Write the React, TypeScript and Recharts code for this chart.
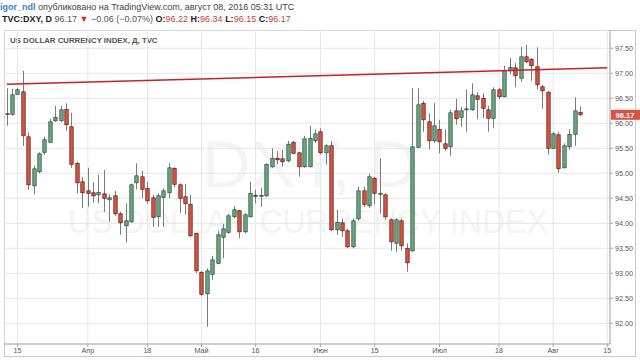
import { Bar, CartesianGrid, ComposedChart, ReferenceLine, XAxis, YAxis } from 'recharts';

// OHLC, DXY daily, 11 Mar 2016 .. 8 Aug 2016
const opens = [
  96.19, 96.18, 96.58, 96.63, 95.73, 94.75, 95.03, 95.42, 95.62, 96.05,
  96.05, 96.28, 95.93, 95.2, 94.83, 94.65, 94.61, 94.57, 94.59, 94.47,
  94.55, 94.19, 93.95, 94.03, 94.81, 94.93, 94.7, 94.51, 94.13, 94.52,
  94.61, 95.1, 94.77, 94.53, 94.38, 93.8, 93.02, 92.59, 92.98, 93.2,
  93.72, 93.82, 94.13, 94.25, 93.83, 94.13, 94.56, 94.54, 94.55, 95.13,
  95.3, 95.29, 95.25, 95.62, 95.41, 95.13, 95.13, 95.65, 95.83, 95.41,
  95.55, 93.87, 94.01, 93.85, 93.53, 94.09, 94.65, 94.35, 94.9, 94.58,
  94.57, 94.07, 93.6, 94.05, 93.5, 93.45, 95.52, 96.4, 96.03, 95.65,
  95.88, 95.59, 95.53, 96.25, 96.12, 96.27, 96.27, 96.55, 96.5, 96.27,
  96.1, 96.67, 96.53, 97.05, 97.11, 96.9, 97.33, 97.28, 97.13, 96.73,
  96.62, 95.5, 95.77, 95.11, 95.53, 95.78, 96.22,
];
const highs = [
  96.7, 96.69, 96.71, 97.05, 95.82, 95.15, 95.42, 95.73, 96.09, 96.35,
  96.35, 96.4, 96.21, 95.23, 94.93, 95.11, 94.82, 94.97, 95.07, 94.58,
  94.65, 94.23, 94.4, 94.79, 95.2, 95.05, 94.83, 94.57, 94.6, 94.7,
  95.2, 95.12, 94.8, 94.79, 94.57, 93.81, 93.05, 93.1, 93.35, 93.85,
  93.99, 94.19, 94.35, 94.27, 94.2, 94.83, 94.67, 94.71, 95.2, 95.5,
  95.45, 95.47, 95.65, 95.65, 95.43, 95.75, 95.95, 95.88, 95.9, 95.58,
  95.65, 94.27, 94.1, 93.89, 94.1, 94.73, 94.73, 94.99, 94.93, 95.3,
  94.6, 94.1, 94.1, 94.1, 93.6, 96.7, 96.7, 96.45, 96.2, 96.41,
  96.07, 95.88, 96.27, 96.49, 96.33, 96.68, 96.8, 96.62, 96.6, 96.35,
  96.72, 96.71, 97.15, 97.31, 97.21, 97.53, 97.57, 97.31, 97.52, 96.77,
  96.65, 95.83, 95.83, 95.6, 95.88, 96.52, 96.34,
];
const lows = [
  95.95, 96.15, 96.57, 95.55, 94.67, 94.58, 95.0, 95.37, 95.61, 96.03,
  96.03, 95.85, 95.11, 94.6, 94.31, 94.33, 94.41, 94.4, 94.23, 94.03,
  94.15, 93.77, 93.62, 94.01, 94.68, 94.5, 94.39, 93.93, 93.93, 93.93,
  94.5, 94.72, 94.21, 94.17, 93.73, 93.0, 92.55, 91.93, 92.87, 93.18,
  93.3, 93.79, 94.1, 93.7, 93.8, 94.12, 94.4, 94.33, 94.53, 95.11,
  95.18, 95.13, 95.22, 95.38, 94.93, 95.11, 95.12, 95.61, 95.38, 95.17,
  93.85, 93.77, 93.73, 93.5, 93.5, 94.05, 94.33, 94.31, 94.38, 94.2,
  94.07, 93.45, 93.43, 93.45, 93.03, 93.43, 95.5, 95.83, 95.48, 95.61,
  95.4, 95.45, 95.35, 95.97, 95.93, 95.83, 96.25, 96.08, 96.1, 95.83,
  95.91, 96.48, 96.52, 96.98, 96.72, 96.83, 97.2, 96.85, 96.68, 96.29,
  95.38, 95.49, 95.01, 95.1, 95.47, 95.55, 96.15,
];
const closes = [
  96.18, 96.57, 96.67, 95.75, 94.77, 95.09, 95.39, 95.67, 96.03, 96.12,
  96.27, 95.97, 95.18, 94.81, 94.61, 94.6, 94.55, 94.62, 94.5, 94.51,
  94.19, 94.01, 94.05, 94.77, 94.95, 94.68, 94.45, 94.12, 94.55, 94.65,
  95.11, 94.78, 94.5, 94.39, 93.75, 93.05, 92.58, 93.05, 93.27, 93.77,
  93.89, 94.15, 94.27, 93.83, 94.17, 94.6, 94.54, 94.56, 95.18, 95.3,
  95.27, 95.23, 95.58, 95.4, 95.13, 95.69, 95.7, 95.79, 95.41, 95.55,
  93.87, 94.02, 93.85, 93.53, 94.05, 94.65, 94.38, 94.93, 94.6, 94.6,
  94.13, 93.63, 94.07, 93.55, 93.21, 95.53, 96.37, 96.07, 95.65, 95.95,
  95.63, 95.5, 96.21, 96.09, 96.25, 96.29, 96.57, 96.48, 96.3, 96.1,
  96.67, 96.53, 97.05, 97.12, 96.95, 97.33, 97.23, 97.15, 96.77, 96.65,
  95.5, 95.79, 95.09, 95.55, 95.78, 96.25, 96.17,
];

const tickLabels: Record<string, string> = {
  '2016-03-15': '15',
  '2016-04-01': 'Апр',
  '2016-04-18': '18',
  '2016-05-02': 'Май',
  '2016-05-16': '16',
  '2016-06-01': 'Июн',
  '2016-06-15': '15',
  '2016-07-01': 'Июл',
  '2016-07-18': '18',
  '2016-08-01': 'Авг',
  '2016-08-15': '15',
};
const priceTicks = [92, 92.5, 93, 93.5, 94, 94.5, 95, 95.5, 96, 96.5, 97, 97.5];
const trendStart = 96.78;
const trendEnd = 97.11;
const lastPrice = 96.17;

// trading days (weekdays) incl. a few empty ones to the right
const days: string[] = [];
for (let t = Date.UTC(2016, 2, 11); t <= Date.UTC(2016, 7, 15); t += 86400000) {
  const dow = new Date(t).getUTCDay();
  if (dow !== 0 && dow !== 6) days.push(new Date(t).toISOString().slice(0, 10));
}

const data = days.map((day, i) => ({
  day,
  o: opens[i],
  h: highs[i],
  l: lows[i],
  c: closes[i],
}));

const FONT = '"Liberation Sans", Arial, sans-serif';
const UP = '#6ba583';
const DOWN = '#d75442';

function Candle(props: any) {
  const { x, y, width, height, payload } = props;
  if (!payload || payload.o == null) return null;
  const { o, h, l, c } = payload;
  const k = h > l ? height / (h - l) : 0;
  const py = (v: number) => y + (h - v) * k;
  const cx = Math.round(x + width / 2) + 0.5;
  const up = c >= o;
  const top = py(Math.max(o, c));
  const bot = py(Math.min(o, c));
  const bw = 3.4;
  return (
    <g>
      <line x1={cx} x2={cx} y1={y} y2={y + height} stroke="#7c7c7e" strokeWidth={1} />
      <rect
        x={cx - bw / 2}
        y={top}
        width={bw}
        height={Math.max(bot - top, 0.8)}
        fill={up ? UP : DOWN}
        stroke={up ? '#225437' : '#5b1a13'}
        strokeWidth={0.7}
      />
    </g>
  );
}

function PriceTag({ viewBox }: any) {
  if (!viewBox) return null;
  const x = viewBox.x + viewBox.width + 1;
  const y = viewBox.y;
  return (
    <g>
      <rect x={x} y={y - 5} width={29} height={10} fill={DOWN} />
      <text x={x + 14} y={y + 3} textAnchor="middle" fill="#fff" fontSize={7.5} fontWeight="bold" fontFamily={FONT}>
        {lastPrice.toFixed(2)}
      </text>
    </g>
  );
}

export default function App() {
  return (
    <div style={{ position: 'absolute', left: 0, top: 0, width: 640, height: 361, background: '#fff', overflow: 'hidden', fontFamily: FONT }}>
      <div style={{ position: 'absolute', left: 0, top: 1, fontSize: 9, lineHeight: '12px', whiteSpace: 'nowrap', color: '#444' }}>
        <span style={{ color: '#3a7fc4', fontWeight: 'bold' }}>igor_ndl</span> опубликовано на TradingView.com, август 08, 2016 05:31 UTC
      </div>
      <div style={{ position: 'absolute', left: 2, top: 13, fontSize: 9, lineHeight: '12px', whiteSpace: 'nowrap', color: '#555' }}>
        <b style={{ color: '#222' }}>TVC:DXY, D</b> 96.17 <span style={{ color: '#d32f2f' }}>▼</span> −0.06 (−0.07%){' '}
        <b style={{ color: '#222' }}>O:</b><span style={{ color: '#c94040' }}>96.22</span>{' '}
        <b style={{ color: '#222' }}>H:</b><span style={{ color: '#c94040' }}>96.34</span>{' '}
        <b style={{ color: '#222' }}>L:</b><span style={{ color: '#c94040' }}>96.15</span>{' '}
        <b style={{ color: '#222' }}>C:</b><span style={{ color: '#c94040' }}>96.17</span>
      </div>

      <div style={{ position: 'absolute', left: 4, top: 30, width: 632, height: 327, border: '1px solid #c8c8c8', boxSizing: 'border-box' }} />

      <svg width={640} height={361} style={{ position: 'absolute', left: 0, top: 0 }}>
        <text x={202} y={187} fontSize={65} fill="#f4f4f4" fontFamily={FONT} textLength={216} lengthAdjust="spacingAndGlyphs">
          DXY, D
        </text>
        <text x={68} y={233} fontSize={33} fill="#f4f4f4" fontFamily={FONT} textLength={480} lengthAdjust="spacingAndGlyphs">
          US DOLLAR CURRENCY INDEX
        </text>
      </svg>

      <div style={{ position: 'absolute', left: 10, top: 36, fontSize: 7.8, fontWeight: 'bold', color: '#555', whiteSpace: 'nowrap' }}>
        US DOLLAR CURRENCY INDEX, Д, TVC
      </div>

      <div style={{ position: 'absolute', left: 4, top: 30 }}>
        <ComposedChart
          width={636}
          height={327}
          data={data}
          margin={{ top: 0, right: 0, bottom: 0, left: 0 }}
          barCategoryGap={0}
          style={{ overflow: 'visible' }}
        >
          <CartesianGrid stroke="#e6e6e6" />
          <XAxis
            dataKey="day"
            ticks={Object.keys(tickLabels)}
            interval={0}
            height={13}
            tickFormatter={(d: string) => tickLabels[d] ?? ''}
            tick={{ fontSize: 7.2, fill: '#555', fontFamily: FONT }}
            tickSize={3}
            tickMargin={1}
            stroke="#a8a8a8"
          />
          <YAxis
            orientation="right"
            domain={[91.586, 97.866]}
            allowDataOverflow
            ticks={priceTicks}
            width={30}
            tickFormatter={(v: number) => v.toFixed(2)}
            tick={{ fontSize: 7.2, fill: '#555', fontFamily: FONT }}
            tickSize={3}
            tickMargin={2}
            stroke="#a8a8a8"
          />
          <Bar
            dataKey={(d: any) => (d.o == null ? null : [d.l, d.h])}
            shape={<Candle />}
            isAnimationActive={false}
          />
          <ReferenceLine
            segment={[
              { x: days[0], y: trendStart },
              { x: days[days.length - 1], y: trendEnd },
            ]}
            stroke="#cc2020"
            strokeWidth={1.6}
          />
          <ReferenceLine y={lastPrice} stroke="none" label={<PriceTag />} />
        </ComposedChart>
      </div>
    </div>
  );
}
